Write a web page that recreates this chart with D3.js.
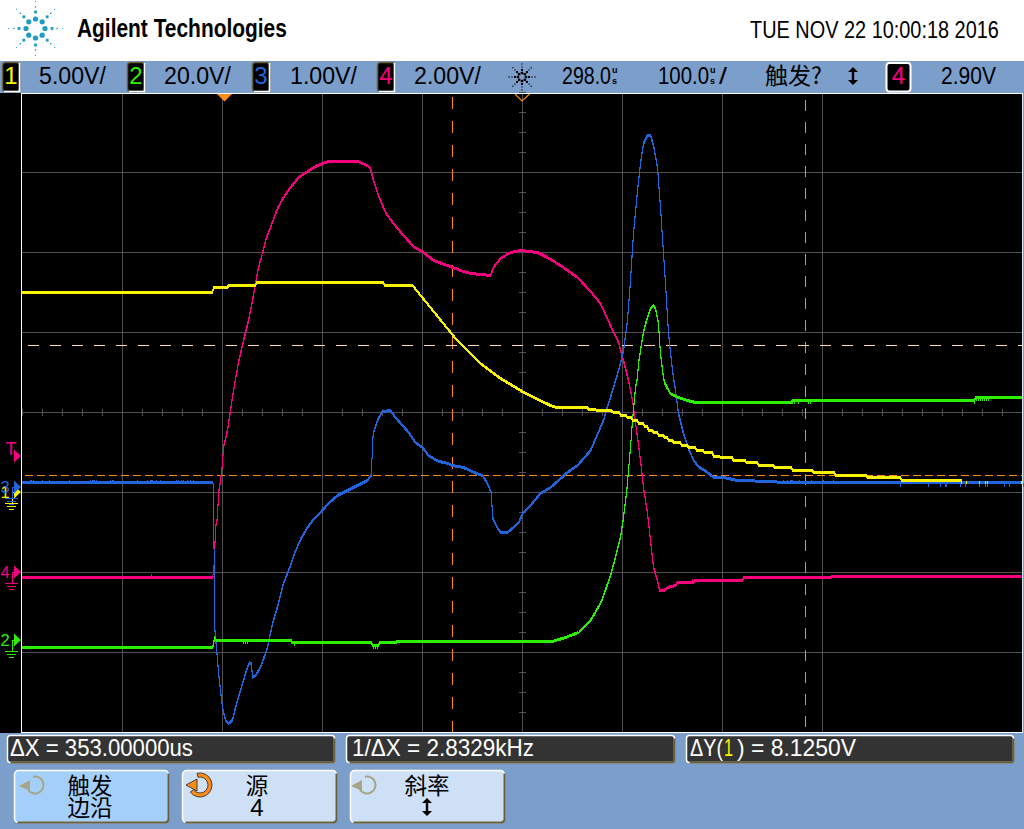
<!DOCTYPE html>
<html><head><meta charset="utf-8">
<script src="https://cdn.jsdelivr.net/npm/d3@7/dist/d3.min.js"></script>
<style>html,body{margin:0;padding:0;background:#fff;overflow:hidden}svg{display:block}text{font-family:"Liberation Sans",Arial,sans-serif}</style>
</head><body><svg id="c" width="1024" height="829"></svg>
<script>
// ---- Readings: [time in us after trigger, volts] ----
const ch1Trace=[[-202,12.5],[-12,12.5],[-11,12.81],[3,12.81],[4,12.94],[31,12.94],[32,13.13],[159,13.13],[160,12.94],[188,12.94],[231,9.63],[233,9.5],[256,8.06],[276,7.13],[301,6.19],[326,5.44],[332,5.31],[363,5.31],[364,5.2],[376,5.13],[386,5.13],[389,5],[395,5],[396,4.81],[402,4.81],[403,4.66],[407,4.66],[408,4.5],[413,4.5],[414,4.34],[419,4.34],[420,4.13],[423,4.13],[424,3.88],[428,3.88],[429,3.75],[433,3.75],[434,3.56],[439,3.56],[440,3.44],[443,3.44],[444,3.25],[448,3.25],[449,3.13],[456,3.13],[457,2.94],[463,2.94],[464,2.81],[471,2.81],[472,2.63],[479,2.63],[480,2.47],[488,2.47],[489,2.28],[495,2.28],[496,2.16],[508,2.16],[509,1.97],[521,1.97],[522,1.88],[533,1.88],[534,1.69],[549,1.69],[550,1.56],[567,1.56],[568,1.38],[588,1.38],[589,1.25],[610,1.25],[611,1.06],[642,1.06],[643,.94],[676,.94],[677,.75],[737,.75]];
const ch2Trace=[[-202,-1.75],[-12,-1.75],[-11,-1],[-10,.75],[-9,.5],[-8,-.07],[67,-.07],[68,-.57],[147,-.57],[148,-1.25],[154,-1.25],[155,-.62],[171,-.5],[172,-.37],[326,-.37],[341,.75],[354,2],[366,5],[377,9.75],[386,16.25],[391,20.75],[396,25.75],[399,30.75],[402,36.75],[404,42.5],[406,48.25],[408,55],[411,63.25],[413,65.75],[414,69.25],[416,72.5],[418,75.75],[420,78.25],[423,80.75],[426,83],[429,83.75],[431,83],[434,79.25],[435,75],[436,71.75],[438,67.5],[440,64.5],[443,63],[446,61.75],[449,61.25],[454,60.75],[463,60],[471,59.5],[567,59.5],[568,59.93],[750,59.93],[751,60.68],[798,60.68]];
const ch3Trace=[[-202,.0625],[-11.5,.0625],[-11,-.75],[-10.5,-.75],[-10,-1.7],[-9,-1.875],[-7,-2.14],[-6,-2.31],[-4,-2.54],[-2,-2.75],[1,-2.91],[4,-2.95],[8,-2.91],[11,-2.75],[18,-2.45],[23,-2.25],[25,-2.19],[27,-2.2],[28,-2.375],[31,-2.35],[36,-2.25],[43,-2],[48,-1.7],[54,-1.45],[59,-1.2],[66,-.975],[70,-.825],[76,-.65],[83,-.5],[89,-.4],[96,-.31],[104,-.2],[113,-.1],[121,-.05],[133,.025],[143,.0875],[147,.16],[148,.56],[149,.69],[153,.84],[158,.95],[166,.96],[171,.875],[178,.775],[184,.69],[191,.56],[198,.5],[204,.4],[214,.325],[221,.31],[228,.275],[239,.25],[249,.19],[258,.15],[263,.05],[267,-.075],[268,-.375],[273,-.51],[276,-.56],[283,-.56],[288,-.51],[294,-.44],[299,-.31],[306,-.225],[316,-.075],[326,0],[334,.0875],[343,.19],[353,.275],[366,.46],[379,.84],[384,1.05],[389,1.25],[394,1.46],[399,1.71],[403,2.09],[406,2.59],[409,3.175],[413,3.71],[416,4.05],[419,4.3],[423,4.4],[426,4.4],[429,4.275],[433,4],[436,3.5],[439,2.925],[441,2.55],[444,1.925],[448,1.46],[451,1.21],[454,.925],[459,.675],[464,.49],[469,.34],[474,.26],[483,.19],[489,.125],[499,.125],[513,.0875],[548,.075],[556,.0625],[798,.0625]];
const ch4Trace=[[-202,-.125],[-12,-.125],[-11,-.05],[-10,.375],[-9,1.125],[-7,1.375],[-6,1.975],[-4,2.3],[-2,2.725],[-1,3.125],[3,3.55],[9,4.55],[14,5.25],[19,5.8],[24,6.3],[28,6.8],[31,7.225],[34,7.625],[38,7.975],[41,8.3],[46,8.625],[53,9.1],[59,9.375],[66,9.625],[74,9.875],[83,10.025],[93,10.175],[104,10.275],[133,10.275],[143,10.175],[146,10.1],[149,9.8],[154,9.425],[161,9],[169,8.725],[179,8.425],[189,8.15],[199,8],[209,7.8],[223,7.675],[236,7.55],[246,7.475],[266,7.425],[269,7.625],[276,7.85],[286,8],[296,8.05],[313,8],[323,7.875],[339,7.625],[353,7.375],[366,7.025],[376,6.725],[386,6.175],[394,5.75],[399,5.3],[404,4.8],[408,4.3],[413,3.375],[416,2.8],[419,2.125],[423,1.475],[426,.8],[429,.125],[433,-.2],[435,-.45],[439,-.46],[443,-.375],[451,-.325],[453,-.25],[469,-.25],[470,-.2],[518,-.2],[519,-.125],[606,-.125],[607,-.09],[798,-.09]];
// short acquisition glitches: times of single-sample excursions
const ch3SpikesUp=[-194,-193,-191,-182,-175,-155,-134,-132,-131,-130,-128,-114,-112,-111,-87,-77,-74,-73,-72,-68,-64,-48,-46,-43,-41,-37,-34,-31,559,563,566,567,568,575,587,599,609];
const ch3SpikesDown=[676,704,716,721,722,736,741,755,761,763,780,785,799,800,803,819];
const ch1Spikes=[737,742,755,761,763,797,801,803,819];
const ch2Spikes=[19,21,23,67,70,149,151,153,568,570,574,584,586,750,752,754,756,758,760,762,764];
const ch4Spikes=[-73,468];
// ---- Labels ----
const channelScales=["5.00V/","20.0V/","1.00V/","2.00V/"];
const channelNames=["1","2","3","4"];
const brand="Agilent Technologies", stamp="TUE NOV 22 10:00:18 2016";
const readouts=["ΔX = 353.00000us","1/ΔX = 2.8329kHz"];
const cursorTimes=[228,581], cursorVolts=[9.156,1.031];
const triggerLevel=2.90;
const gridDiv=d3.range(0,9), gridTime=d3.range(-102,698,100);
const tickTimes=d3.range(-202,798,20), tickDiv=d3.range(0,8,.25);

const C={1:"#f8f400",2:"#2cf000",3:"#2264dc",4:"#f5007d"}, ORANGE="#ff8c14", PANEL="#7c9ecb", GRID="#505050";
const svg=d3.select("#c");
const rect=(g,x,y,w,h,f)=>g.append("rect").attr("x",x).attr("y",y).attr("width",w).attr("height",h).attr("fill",f);
const label=(g,s,x,y,size,o={})=>{const t=g.append("text").attr("x",x).attr("y",y).attr("font-size",size).attr("fill",o.fill||"#000").attr("text-anchor",o.anchor||"start").text(s);
  if(o.weight)t.attr("font-weight",o.weight);if(o.font)t.style("font-family",o.font);
  if(o.len){const n=t.node().getComputedTextLength();t.attr("x",0).attr("y",0).attr("transform",`translate(${x},${y}) scale(${o.len/n},1)`);}
  return t;};
const CJK='"Noto Sans CJK SC"';

rect(svg,0,0,1024,829,PANEL);
rect(svg,0,0,1024,61,"#fff");

// ---- Logo ----
const logo=svg.append("g").attr("transform","translate(35.5,28.5)").attr("fill","#1f9cc0");
d3.range(8).forEach(i=>{const a=i*Math.PI/4,c=Math.cos(a),s=Math.sin(a);
  logo.append("circle").attr("cx",9.5*c).attr("cy",9.5*s).attr("r",2.6);
  rect(logo,16.5*c-1.4,16.5*s-1.4,2.8,2.8,"#1f9cc0");
  rect(logo,21.5*c-.7,21.5*s-.7,1.4,1.4,"#1f9cc0");
  rect(logo,27*c-.5,27*s-.5,1,1,"#1f9cc0");});
label(svg,brand,77,37,26,{weight:"bold",len:210});
label(svg,stamp,750,37.5,24.5,{len:249});

// ---- Status bar ----
const barX=[2,127,252,377], txtX=[39,164,290,414];
channelScales.forEach((s,i)=>{
  const g=svg.append("g");
  g.append("rect").attr("x",barX[i]+.5).attr("y",62.5).attr("width",17).attr("height",29).attr("rx",3).attr("fill","#000").attr("stroke","#6b6038").attr("stroke-width",1.5);
  g.append("path").attr("d",`M${barX[i]+17.5} 63V91.5H${barX[i]+2}`).attr("fill","none").attr("stroke","#fff").attr("stroke-width",1.5);
  label(g,channelNames[i],barX[i]+9,84,24,{fill:C[i+1],anchor:"middle"});
  label(g,s,txtX[i],83.5,24.5,{len:67});
});
const sun=svg.append("g").attr("transform","translate(522,77)").attr("fill","#000");
d3.range(8).forEach(i=>{const a=i*Math.PI/4,c=Math.cos(a),s=Math.sin(a);
  [4,7,10,13].forEach((r,k)=>{const w=k==0?2.4:k==1?2:1.2;rect(sun,r*c-w/2,r*s-w/2,w,w,"#000");});});
label(svg,"298.0",562,83.5,24.5,{len:49});
label(svg,"u",612,72.5,9,{weight:"bold"}); label(svg,"s",612,83.5,9,{weight:"bold"});
label(svg,"100.0",658,83.5,24.5,{len:51});
label(svg,"u",710,72.5,9,{weight:"bold"}); label(svg,"s",710,83.5,9,{weight:"bold"});
label(svg,"/",719,83.5,24.5,{len:8});
label(svg,"触发?",765,84,23,{font:CJK,len:57});
const dblArrow=(g,x,y,h,f)=>g.append("path").attr("d",`M${x-5} ${y-h/2+5}L${x} ${y-h/2}L${x+5} ${y-h/2+5}H${x+1.2}V${y+h/2-5}H${x+5}L${x} ${y+h/2}L${x-5} ${y+h/2-5}H${x-1.2}V${y-h/2+5}Z`).attr("fill",f);
dblArrow(svg,853,76,18,"#000");
svg.append("rect").attr("x",886.5).attr("y",63).attr("width",24).attr("height",28.5).attr("rx",3).attr("fill","#000").attr("stroke","#fff").attr("stroke-width",2);
label(svg,"4",898.5,84,24,{fill:C[4],anchor:"middle"});
label(svg,"2.90V",941,83.5,24.5,{len:55});

// ---- Plot ----
const x=d3.scaleLinear().domain([-202,798]).range([22,1022]);
const div=d3.scaleLinear().domain([0,8]).range([92,732]);
const level=(ground,voltsPerDiv)=>d3.scaleLinear().domain([0,voltsPerDiv]).range([ground,ground-80]);
const Y={1:level(492,5),2:level(640,20),3:level(487,1),4:level(572,2)};
rect(svg,0,93,1023,640,"#000");

const ga=svg.append("g").attr("shape-rendering","crispEdges");
const ax=d3.axisBottom(x).tickValues(gridTime).tickSize(640).tickFormat("");
const ay=d3.axisRight(div).tickValues(gridDiv.slice(1,8)).tickSize(1000).tickFormat("");
ga.append("g").attr("transform","translate(0,93)").call(ax);
ga.append("g").attr("transform","translate(22,0)").call(ay);
ga.selectAll(".domain").remove();
ga.selectAll("line").attr("stroke",GRID);
// centre-axis minor ticks
ga.append("g").selectAll("line").data(tickTimes).join("line").attr("x1",d=>x(d)+.5).attr("x2",d=>x(d)+.5).attr("y1",409).attr("y2",416).attr("stroke",GRID);
ga.append("g").selectAll("line").data(tickDiv).join("line").attr("y1",d=>div(d)+.5).attr("y2",d=>div(d)+.5).attr("x1",519).attr("x2",526).attr("stroke",GRID);

// Cursors
const cur=svg.append("g").attr("shape-rendering","crispEdges").attr("fill","none");
cur.append("line").attr("x1",x(cursorTimes[0])+.5).attr("x2",x(cursorTimes[0])+.5).attr("y1",97).attr("y2",732).attr("stroke",ORANGE).attr("stroke-dasharray","12 12");
cur.append("line").attr("x1",x(cursorTimes[1])+.5).attr("x2",x(cursorTimes[1])+.5).attr("y1",100).attr("y2",732).attr("stroke",ORANGE).attr("stroke-dasharray","11 11");
cur.append("line").attr("x1",28).attr("x2",1022).attr("y1",Math.floor(Y[1](cursorVolts[0]))+.5).attr("y2",Math.floor(Y[1](cursorVolts[0]))+.5).attr("stroke","#ffd9a8").attr("stroke-dasharray","11 11");
cur.append("line").attr("x1",25).attr("x2",1022).attr("y1",Math.floor(Y[1](cursorVolts[1]))+.5).attr("y2",Math.floor(Y[1](cursorVolts[1]))+.5).attr("stroke",ORANGE).attr("stroke-dasharray","8 4");

// Traces
const tr=svg.append("g").attr("shape-rendering","crispEdges").attr("transform","translate(.5,.5)");
function trace(ch,data,spikes,lo,hi){
  const y=Y[ch],val=t=>{const i=d3.bisector(p=>p[0]).left(data,t);return data[Math.min(i,data.length-1)][1];};
  const area=d3.area().x(d=>x(d[0])).y0(d=>y(d[1])-1).y1(d=>y(d[1])+1);
  tr.append("path").attr("d",area(data)).attr("fill",C[ch]).attr("stroke",C[ch]).attr("stroke-width",1);
  tr.append("g").selectAll("line").data(spikes).join("line").attr("x1",d=>x(d)).attr("x2",d=>x(d))
    .attr("y1",d=>y(val(d))+lo).attr("y2",d=>y(val(d))+hi).attr("stroke",C[ch]);
}
trace(4,ch4Trace,ch4Spikes,-3.5,0);
trace(3,ch3Trace,ch3SpikesUp,-3,0);
tr.append("g").selectAll("line").data(ch3SpikesDown).join("line").attr("x1",d=>x(d)).attr("x2",d=>x(d)).attr("y1",Y[3](.0625)).attr("y2",Y[3](.0625)+4).attr("stroke",C[3]);
trace(2,ch2Trace,ch2Spikes,0,3.5);
trace(1,ch1Trace,[],0,0);
tr.append("g").selectAll("line").data(ch1Spikes).join("line").attr("x1",d=>x(d)).attr("x2",d=>x(d)).attr("y1",Y[1](.72)).attr("y2",Y[1](.55)).attr("stroke",C[1]);

// Frame
const fr=svg.append("g").attr("shape-rendering","crispEdges");
rect(fr,21,93,1,640,"#fff");rect(fr,21,93,1002,1,"#fff");rect(fr,21,732,1002,1,"#fff");rect(fr,1022,93,1,640,"#dfe8f5");

// Trigger position markers
svg.append("path").attr("d","M217 94H232L224.5 101.5Z").attr("fill",ORANGE);
svg.append("path").attr("d","M515 94L522 101L529.5 94").attr("fill","none").attr("stroke",ORANGE).attr("stroke-width",1.2);

// Channel ground markers
const mk=svg.append("g");
function ground(ch,yy){
  const c=C[ch];
  mk.append("path").attr("d",`M14 ${yy-6.5}L21 ${yy}L14 ${yy+6.5}Z`).attr("fill",c);
  const g=mk.append("g").attr("shape-rendering","crispEdges");
  g.append("path").attr("d",`M15 ${yy+.5}H12V${yy+11}M5 ${yy+11.5}H18M7 ${yy+14.5}H16M9 ${yy+17.5}H14`).attr("fill","none").attr("stroke",c);
  label(mk,String(ch),5,yy+6,16.5,{fill:c,anchor:"middle"});
}
ground(1,492);ground(3,487);ground(4,572);ground(2,640);
const trigY=Y[4](triggerLevel);
mk.append("path").attr("d",`M14 ${trigY-6.5}L21 ${trigY}L14 ${trigY+6.5}Z`).attr("fill",C[4]);
label(mk,"T",11,trigY-1,18,{fill:C[4],anchor:"middle"});

// ---- Readout boxes ----
function box(g,x0,x1,y0,y1,f,r){
  g.append("rect").attr("x",x0).attr("y",y0).attr("width",x1-x0).attr("height",y1-y0).attr("rx",r).attr("fill",f).attr("stroke","#fff").attr("stroke-width",1.5);
  g.append("path").attr("d",`M${x1} ${y0+3}V${y1-r}Q${x1} ${y1} ${x1-r} ${y1}H${x0+3}`).attr("fill","none").attr("stroke","#6b6038").attr("stroke-width",2);
}
const bx=svg.append("g");
box(bx,7.5,334.5,735.5,762.5,"#333",3);
box(bx,346.5,674.5,735.5,762.5,"#333",3);
box(bx,686.5,1013.5,735.5,762.5,"#333",3);
label(bx,readouts[0],10,756,23,{fill:"#fff",len:183});
label(bx,readouts[1],352,756,23,{fill:"#fff",len:182});
label(bx,"ΔY(",690,756,23,{fill:"#fff",len:33});
label(bx,"1",724,756,23,{fill:C[1],len:9});
label(bx,") = 8.1250V",737,756,23,{fill:"#fff",len:119});

// ---- Softkeys ----
const keys=[{x:14.5,f:"#a5cffb",a:"触发",b:"边沿",tx:90,ic:35},{x:182.5,f:"#cde0f6",a:"源",b:"4",tx:257,ic:200},{x:350.5,f:"#cde0f6",a:"斜率",b:null,tx:427,ic:367}];
keys.forEach((k,i)=>{
  const g=svg.append("g");
  box(g,k.x,k.x+154,770.5,822.5,k.f,4);
  label(g,k.a,k.tx,794,22.5,{font:CJK,anchor:"middle"});
  if(k.b==="4")label(g,k.b,k.tx,816,24,{anchor:"middle"});
  else if(k.b)label(g,k.b,k.tx,816,22.5,{font:CJK,anchor:"middle"});
  else dblArrow(g,k.tx,807,18,"#000");
  const active=i==1,col=active?ORANGE:"#a8a48a";
  const arc=d3.arc().innerRadius(active?8:7.5).outerRadius(active?12:9.5).startAngle(-0.25).endAngle(Math.PI*1.3)();
  const ic=g.append("g").attr("transform",`translate(${k.ic},785)`);
  ic.append("path").attr("d",arc).attr("fill",col).attr("stroke",active?"#222":"none").attr("stroke-width",.8);
  ic.append("path").attr("d",active?"M-14 0L-3 -6V6Z":"M-16 1L-5 -5V6Z").attr("fill",col).attr("stroke",active?"#222":"none").attr("stroke-width",.8);
});
</script></body></html>
